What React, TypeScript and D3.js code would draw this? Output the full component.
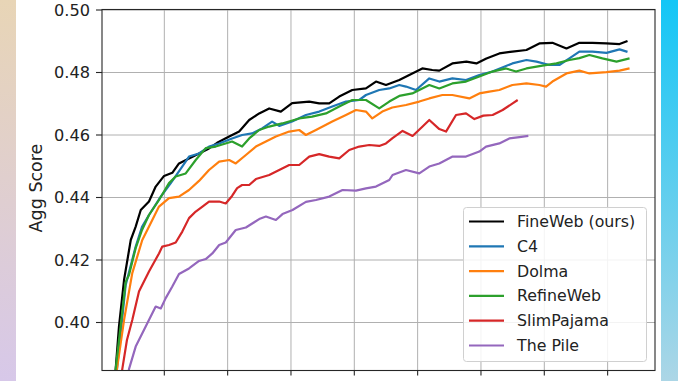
import React from 'react';
import * as d3 from 'd3';

const W = 678;
const H = 381;

const seriesNames = ['FineWeb (ours)', 'C4', 'Dolma', 'RefineWeb', 'SlimPajama', 'The Pile'];
const seriesColors = ['#000000', '#1f77b4', '#ff7f0e', '#2ca02c', '#d62728', '#9467bd'];

const yTicks = [0.40, 0.42, 0.44, 0.46, 0.48, 0.50];
const xTicks = [50, 100, 150, 200, 250, 300, 350, 400];

const fineweb: [number, number][] = [
  [9, 0.37], [11.6, 0.3851], [14.2, 0.3987], [18.2, 0.4136], [23.5, 0.4264], [27.4, 0.4307], [31.4, 0.436],
  [37.9, 0.4387], [43.2, 0.4435], [49.8, 0.4469], [56.3, 0.4479], [61.6, 0.4509], [69.5, 0.4525],
  [77.4, 0.4541], [85.3, 0.4557], [91.7, 0.4575], [101.2, 0.4595], [109.1, 0.4611], [117.0, 0.4648],
  [124.9, 0.4669], [132.8, 0.4685], [142.0, 0.4675], [150.9, 0.4702], [164.4, 0.4707], [172.3, 0.4701],
  [180.2, 0.4701], [188.1, 0.4723], [198.4, 0.4744], [209.2, 0.4749], [217.1, 0.4771], [225.0, 0.476],
  [235.5, 0.4776], [245.8, 0.4797], [253.7, 0.4813], [261.6, 0.4808], [267.1, 0.4806], [277.4, 0.4829],
  [288.5, 0.4835], [296.4, 0.4829], [304.3, 0.4845], [314.5, 0.4861], [324.8, 0.4867], [335.9, 0.4872],
  [346.1, 0.4893], [356.4, 0.4895], [367.5, 0.4877], [377.7, 0.4895], [388.0, 0.4895], [399.1, 0.4893],
  [409.4, 0.4891], [415.7, 0.4901],
];

const c4: [number, number][] = [
  [10, 0.37], [12.6, 0.3851], [19.5, 0.412], [27.4, 0.4243], [32.4, 0.4306], [37.9, 0.4344], [47.2, 0.4403],
  [55.1, 0.4446], [64.0, 0.4498], [69.5, 0.4531], [77.4, 0.4541], [85.3, 0.4563], [93.3, 0.4573],
  [103.5, 0.4589], [111.4, 0.46], [119.3, 0.4605], [127.2, 0.4621], [135.1, 0.4643], [140.7, 0.4629],
  [150.9, 0.4643], [161.8, 0.4664], [172.3, 0.4675], [182.6, 0.4691], [193.4, 0.4707], [203.9, 0.4712],
  [209.2, 0.4728], [219.7, 0.4744], [227.6, 0.4749], [235.5, 0.476], [240.8, 0.4755], [248.7, 0.4744],
  [259.2, 0.4781], [267.1, 0.4771], [277.4, 0.4781], [288.2, 0.4776], [298.7, 0.4792], [309.0, 0.4803],
  [324.8, 0.4829], [335.9, 0.484], [343.8, 0.4835], [354.0, 0.4824], [361.9, 0.4824], [369.8, 0.4845],
  [377.7, 0.4867], [388.0, 0.4867], [399.1, 0.4863], [409.4, 0.4874], [415.7, 0.4866],
];

const dolma: [number, number][] = [
  [10, 0.37], [12.6, 0.3851], [18.2, 0.4008], [24.7, 0.4158], [32.6, 0.4264], [40.5, 0.4328], [45.8, 0.4371],
  [53.7, 0.4398], [61.6, 0.4403], [69.5, 0.4424], [77.4, 0.4453], [85.3, 0.4488], [93.3, 0.4515],
  [101.2, 0.452], [106.4, 0.4509], [114.4, 0.4536], [122.3, 0.4563], [130.2, 0.4579], [138.1, 0.4595],
  [148.6, 0.4611], [156.5, 0.4616], [161.8, 0.46], [169.7, 0.4616], [182.6, 0.4643], [193.4, 0.4664],
  [201.3, 0.468], [209.2, 0.4675], [214.2, 0.4653], [222.1, 0.4675], [230.0, 0.4688], [240.8, 0.4696],
  [251.3, 0.4707], [259.2, 0.4717], [269.5, 0.4728], [277.4, 0.4728], [290.8, 0.4717], [298.7, 0.4733],
  [306.6, 0.4739], [314.5, 0.4744], [324.8, 0.476], [335.9, 0.4765], [346.1, 0.476], [351.4, 0.4755],
  [356.4, 0.4771], [367.5, 0.4797], [377.7, 0.4806], [385.6, 0.4797], [399.1, 0.4801], [409.4, 0.4806],
  [417.3, 0.4813],
];

const refineweb: [number, number][] = [
  [9, 0.37], [11.6, 0.3851], [19.5, 0.413], [22.1, 0.4152], [27.4, 0.4238], [32.4, 0.4296], [37.9, 0.4344],
  [45.8, 0.4392], [53.7, 0.4446], [59.0, 0.4467], [66.9, 0.4477], [74.8, 0.452], [82.7, 0.4558],
  [90.6, 0.4563], [103.5, 0.4579], [111.4, 0.4563], [117.0, 0.4589], [124.9, 0.4616], [132.8, 0.4627],
  [143.0, 0.4637], [156.5, 0.4653], [166.7, 0.4659], [177.6, 0.4669], [188.1, 0.4691], [198.4, 0.4712],
  [209.2, 0.4712], [219.7, 0.4685], [227.6, 0.4707], [235.5, 0.4725], [245.8, 0.4733], [259.2, 0.476],
  [267.1, 0.4749], [277.4, 0.4765], [288.2, 0.4771], [298.7, 0.4787], [309.0, 0.4803], [319.8, 0.4813],
  [327.7, 0.4803], [335.9, 0.4813], [348.5, 0.4822], [359.6, 0.4829], [369.8, 0.484], [377.7, 0.4846],
  [385.6, 0.4856], [395.9, 0.4845], [407.0, 0.4835], [417.3, 0.4845],
];

const slimpajama: [number, number][] = [
  [14, 0.37], [16.8, 0.3851], [20.5, 0.3944], [24.7, 0.4008], [30.0, 0.4099], [37.9, 0.4163], [45.8, 0.4221],
  [48.4, 0.4243], [53.7, 0.4248], [59.0, 0.4256], [64.2, 0.4291], [69.5, 0.4334], [74.8, 0.4355],
  [80.1, 0.4371], [85.3, 0.4387], [93.3, 0.4387], [98.5, 0.4381], [103.5, 0.4405], [107.5, 0.443],
  [111.4, 0.444], [117.0, 0.444], [122.3, 0.4459], [132.8, 0.4472], [140.7, 0.4488], [148.6, 0.4504],
  [156.5, 0.4504], [164.4, 0.4531], [172.3, 0.4539], [180.2, 0.4531], [188.1, 0.4525], [196.0, 0.4552],
  [203.9, 0.4563], [211.8, 0.4568], [219.7, 0.4565], [225.0, 0.4573], [230.2, 0.459], [238.1, 0.4613],
  [246.0, 0.4597], [253.9, 0.4627], [259.2, 0.4648], [267.1, 0.4619], [272.4, 0.4611], [280.3, 0.4664],
  [288.2, 0.4669], [294.8, 0.4651], [301.9, 0.4662], [309.2, 0.4664], [317.1, 0.468], [325.0, 0.4701],
  [329.0, 0.4712],
];

const thePile: [number, number][] = [
  [19, 0.375], [22.1, 0.3851], [27.4, 0.3923], [35.3, 0.3987], [43.2, 0.4051], [47.2, 0.4045], [51.1, 0.4078],
  [56.3, 0.4115], [61.6, 0.4155], [69.5, 0.4173], [77.4, 0.4197], [82.7, 0.4203], [87.9, 0.4221],
  [93.3, 0.4248], [98.5, 0.4256], [106.4, 0.4296], [114.4, 0.4304], [124.9, 0.4331], [130.2, 0.4339],
  [138.1, 0.4328], [143.3, 0.4347], [151.2, 0.436], [161.8, 0.4386], [169.7, 0.4392], [180.2, 0.4403],
  [190.7, 0.4424], [201.3, 0.4422], [209.2, 0.4429], [217.1, 0.4435], [227.6, 0.4456], [230.2, 0.4472],
  [240.8, 0.4488], [251.3, 0.4477], [259.2, 0.4499], [267.1, 0.4509], [277.6, 0.4531], [288.2, 0.4531],
  [298.7, 0.4547], [304.0, 0.4563], [314.5, 0.4573], [322.4, 0.4589], [330.4, 0.4593], [337.4, 0.4597],
];

const allSeries = [fineweb, c4, dolma, refineweb, slimpajama, thePile];

const PL = 102;
const PR = 655;
const PT = 9.5;
const PB = 370.5;
const FONT = "'DejaVu Sans', sans-serif";

export default function App() {
  const x = d3.scaleLinear().domain([0.8, 437.4]).range([PL, PR]);
  const y = d3.scaleLinear().domain([0.38464, 0.50016]).range([PB, PT]);
  const line = d3
    .line<[number, number]>()
    .x((d) => x(d[0]))
    .y((d) => y(d[1]));

  const legendX = 463.5;
  const legendY = 207.5;
  const rowH = 24.8;

  return (
    <svg
      width={W}
      height={H}
      viewBox={`0 0 ${W} ${H}`}
      style={{ position: 'absolute', left: 0, top: 0, display: 'block' }}
    >
      <defs>
        <linearGradient id="lg" x1="0" y1="0" x2="0" y2="1">
          <stop offset="0" stopColor="#e8d5b6" />
          <stop offset="1" stopColor="#d7c8e9" />
        </linearGradient>
        <linearGradient id="rg" x1="0" y1="0" x2="0" y2="1">
          <stop offset="0" stopColor="#13c6f6" />
          <stop offset="1" stopColor="#acd6e6" />
        </linearGradient>
        <clipPath id="plotclip">
          <rect x={PL} y={PT} width={PR - PL} height={PB - PT} />
        </clipPath>
      </defs>
      <rect x={0} y={0} width={W} height={H} fill="#ffffff" />
      <rect x={0} y={0} width={16} height={H} fill="url(#lg)" />
      <rect x={661} y={0} width={W - 661} height={H} fill="url(#rg)" />

      {/* grid */}
      <g stroke="#b0b0b0" strokeWidth={1}>
        {yTicks.map((t) => (
          <line key={'gy' + t} x1={PL} x2={PR} y1={y(t)} y2={y(t)} />
        ))}
        {xTicks.map((t) => (
          <line key={'gx' + t} x1={x(t)} x2={x(t)} y1={PT} y2={PB} />
        ))}
      </g>

      {/* series */}
      <g clipPath="url(#plotclip)" fill="none" strokeLinejoin="round" strokeLinecap="butt">
        {allSeries.map((s, i) => (
          <path key={seriesNames[i]} d={line(s) || ''} stroke={seriesColors[i]} strokeWidth={2.2} />
        ))}
      </g>

      {/* spines */}
      <rect x={PL} y={PT} width={PR - PL} height={PB - PT} fill="none" stroke="#262626" strokeWidth={1.1} />

      {/* y ticks */}
      <g>
        {yTicks.map((t) => (
          <g key={'yt' + t}>
            <line x1={PL - 6} x2={PL} y1={y(t)} y2={y(t)} stroke="#262626" strokeWidth={1.1} />
            <text
              x={PL - 12}
              y={y(t)}
              textAnchor="end"
              dominantBaseline="central"
              fontFamily={FONT}
              fontSize={16.2}
              fill="#222"
            >
              {t.toFixed(2)}
            </text>
          </g>
        ))}
      </g>

      {/* x ticks */}
      <g>
        {xTicks.map((t) => (
          <line key={'xt' + t} x1={x(t)} x2={x(t)} y1={PB} y2={PB + 5} stroke="#262626" strokeWidth={1.1} />
        ))}
      </g>

      {/* y label */}
      <text
        transform={`translate(36,${(PT + PB) / 2 - 2}) rotate(-90)`}
        textAnchor="middle"
        dominantBaseline="central"
        fontFamily={FONT}
        fontSize={17.5}
        fill="#222"
      >
        Agg Score
      </text>

      {/* legend */}
      <g>
        <rect
          x={legendX}
          y={legendY}
          width={183}
          height={154}
          rx={3}
          fill="#ffffff"
          fillOpacity={0.85}
          stroke="#d0d0d0"
          strokeWidth={1}
        />
        {seriesNames.map((n, i) => {
          const cy = legendY + 14 + i * rowH;
          return (
            <g key={'lg' + n}>
              <line x1={469} x2={504} y1={cy} y2={cy} stroke={seriesColors[i]} strokeWidth={2.2} />
              <text
                x={517}
                y={cy}
                dominantBaseline="central"
                fontFamily={FONT}
                fontSize={15.8}
                fill="#222"
              >
                {n}
              </text>
            </g>
          );
        })}
      </g>
    </svg>
  );
}
